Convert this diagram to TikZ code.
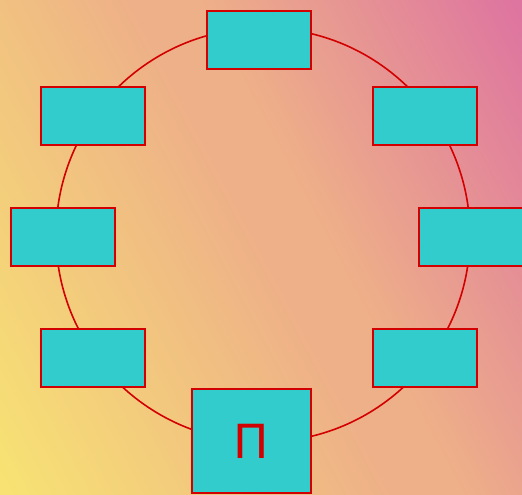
\documentclass[tikz,border=0pt]{standalone}
\usepackage{fontspec}
\newfontfamily\pifont{DejaVu Sans}
\usetikzlibrary{positioning}
\definecolor{boxfill}{RGB}{51,204,204}
\definecolor{boxline}{RGB}{210,0,0}
\definecolor{bgyellow}{RGB}{247,226,115}
\definecolor{bgorange}{RGB}{238,176,136}
\definecolor{bgpink}{RGB}{222,117,160}
\pgfdeclarehorizontalshading{bgshade}{100bp}{color(0bp)=(bgyellow); color(17bp)=(bgyellow);
  color(50bp)=(bgorange); color(56bp)=(bgorange); color(83bp)=(bgpink); color(100bp)=(bgpink)}

\begin{document}
\begin{tikzpicture}[
  x=1pt, y=-1pt,
  box/.style={draw=boxline, fill=boxfill, line width=1.6pt, inner sep=0pt,
              minimum width=104pt, minimum height=58pt},
  bigbox/.style={box, minimum width=119pt, minimum height=104pt,
                 text=boxline, font=\pifont\fontsize{47}{50}\selectfont},
  ring/.style={draw=boxline, line width=1.6pt}
]
% Background
\useasboundingbox (0,0) rectangle (522,495);
\shade[shading=bgshade, shading angle=28] (0,0) rectangle (522,495);
\clip (0,0) rectangle (522,495);

% Ring
\draw[ring] (263,235) circle [radius=207pt];

% Boxes round the ring
\node[box] (top) at (259,40) {};
\node[box] (upleft) at (93,116) {};
\node[box] (upright) at (425,116) {};
\node[box] (left) at (63,237) {};
\node[box] (right) at (471,237) {};
\node[box] (lowleft) at (93,358) {};
\node[box] (lowright) at (425,358) {};
\node[bigbox] (bottom) at (251.5,441) {Π};
\end{tikzpicture}
\end{document}
